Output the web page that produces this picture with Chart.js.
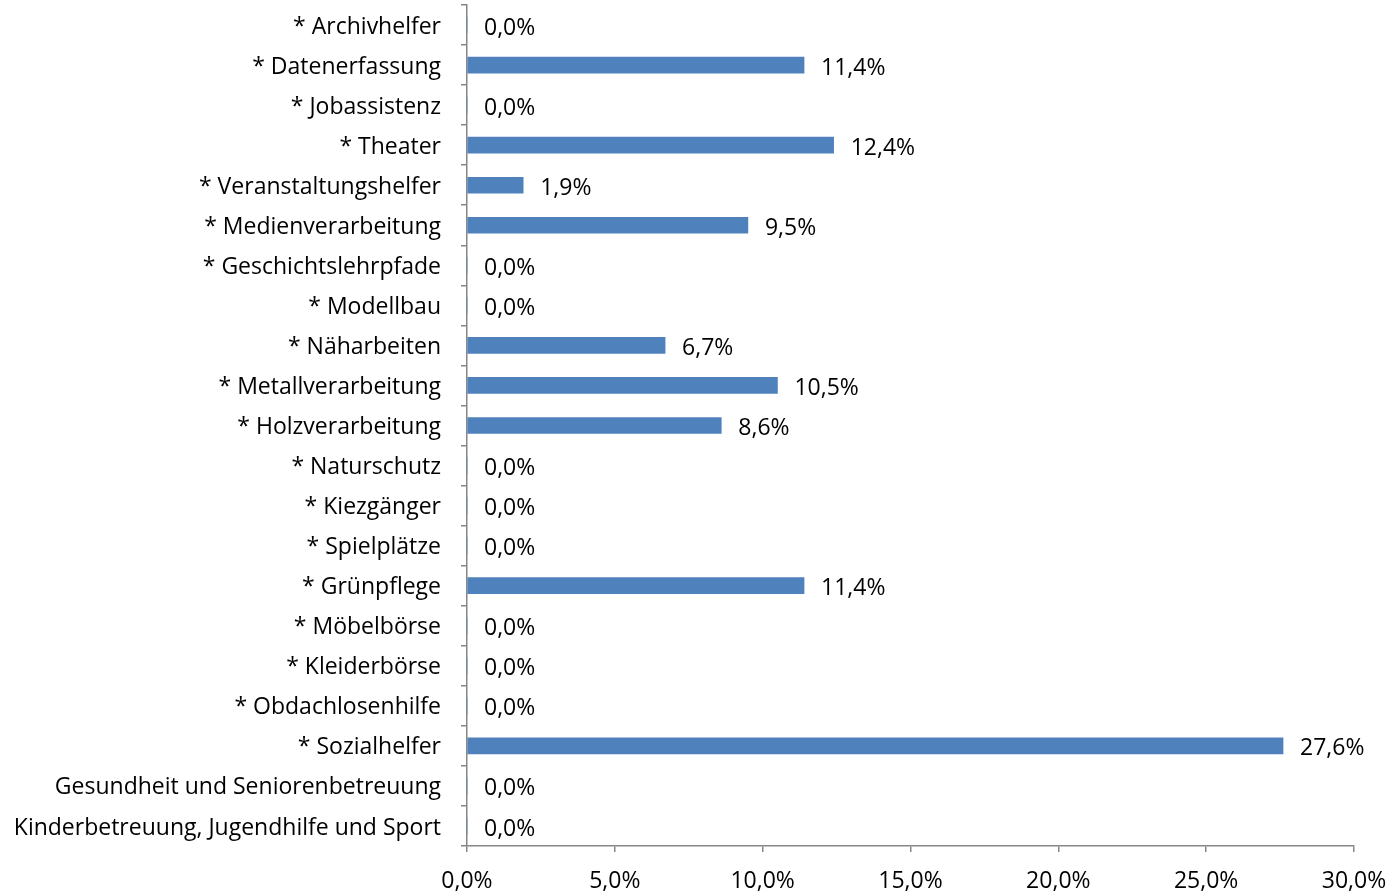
<!DOCTYPE html>
<html lang="de">
<head>
    <meta charset="UTF-8">
    <title>Anteile</title>
    <script src="https://cdn.jsdelivr.net/npm/chart.js"></script>
    <style>
        body { margin: 0; padding: 0; background: #fff; }
        .chart-container { width: 1394px; height: 895px; }
    </style>
</head>
<body>
    <div class="chart-container">
        <canvas id="barChart"></canvas>
    </div>

    <script>
        let categories = ["* Archivhelfer", "* Datenerfassung", "* Jobassistenz", "* Theater", "* Veranstaltungshelfer",
            "* Medienverarbeitung", "* Geschichtslehrpfade", "* Modellbau", "* Näharbeiten", "* Metallverarbeitung",
            "* Holzverarbeitung", "* Naturschutz", "* Kiezgänger", "* Spielplätze", "* Grünpflege", "* Möbelbörse",
            "* Kleiderbörse", "* Obdachlosenhilfe", "* Sozialhelfer", "Gesundheit und Seniorenbetreuung",
            "Kinderbetreuung, Jugendhilfe und Sport"];
        let shares = [0, 11.4, 0, 12.4, 1.9, 9.5, 0, 0, 6.7, 10.5, 8.6, 0, 0, 0, 11.4, 0, 0, 0, 27.6, 0, 0];
        let xTicks = [0, 5, 10, 15, 20, 25, 30];

        const fontFamily = "'Open Sans', sans-serif";
        const axisGrey = "#868686";

        function fmt(v) {
            return v.toFixed(1).replace(".", ",") + "%";
        }

        // value labels right of every bar
        const valueLabels = {
            id: "valueLabels",
            afterDatasetsDraw(chart) {
                let ctx = chart.ctx;
                let meta = chart.getDatasetMeta(0);
                ctx.save();
                ctx.font = "23px " + fontFamily;
                ctx.fillStyle = "#000";
                ctx.textAlign = "left";
                ctx.textBaseline = "middle";
                meta.data.forEach((bar, i) => {
                    ctx.fillText(fmt(shares[i]), bar.x + 17, bar.y + 3);
                });
                ctx.restore();
            }
        };

        new Chart(document.getElementById("barChart").getContext("2d"), {
            type: "bar",
            data: {
                labels: categories,
                datasets: [{
                    data: shares,
                    backgroundColor: "#4F81BD",
                    barThickness: 16
                }]
            },
            options: {
                indexAxis: "y",
                responsive: true,
                maintainAspectRatio: false,
                animation: false,
                layout: { padding: { top: 5, right: 40, left: 0, bottom: 0 } },
                plugins: { legend: { display: false }, tooltip: { enabled: false } },
                scales: {
                    x: {
                        min: 0,
                        max: 30,
                        afterBuildTicks: axis => { axis.ticks = xTicks.map(v => ({ value: v })); },
                        afterFit: axis => { axis.height = 49; axis.paddingLeft = 0; axis.paddingRight = 0; },
                        border: { color: axisGrey, width: 1.5 },
                        grid: { drawOnChartArea: false, drawTicks: true, tickLength: 6, color: axisGrey, lineWidth: 1.5 },
                        ticks: {
                            padding: 16,
                            color: "#000",
                            font: { family: fontFamily, size: 23 },
                            maxRotation: 0,
                            callback: v => fmt(v)
                        }
                    },
                    y: {
                        afterFit: axis => { axis.width = 467; axis.paddingTop = 0; axis.paddingBottom = 0; },
                        border: { color: axisGrey, width: 1.5 },
                        grid: { drawOnChartArea: false, drawTicks: true, tickLength: 6, offset: true, color: axisGrey, lineWidth: 1.5 },
                        ticks: {
                            padding: 20,
                            labelOffset: 2,
                            color: "#000",
                            font: { family: fontFamily, size: 23 },
                            autoSkip: false
                        }
                    }
                }
            },
            plugins: [valueLabels]
        });
    </script>
</body>
</html>
